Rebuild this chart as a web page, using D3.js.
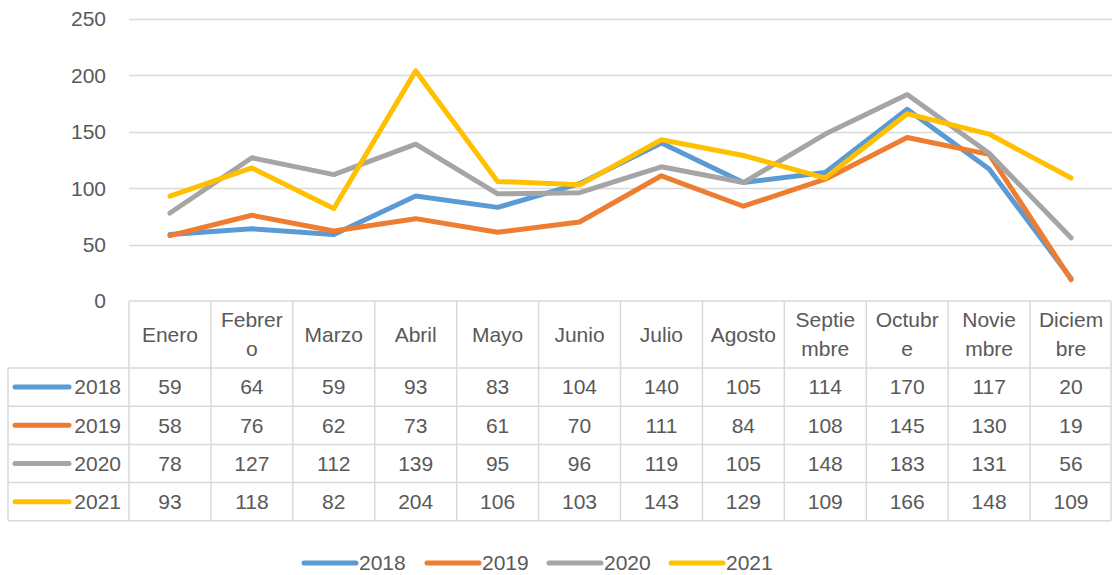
<!DOCTYPE html>
<html><head><meta charset="utf-8">
<script src="https://cdn.jsdelivr.net/npm/d3@7"></script>
<style>body{margin:0;background:#fff;}svg{display:block;font-family:"Liberation Sans",Arial,sans-serif;}</style>
</head><body>
<svg id="c" width="1112" height="575"></svg>
<script>
const months = ["Enero","Febrero","Marzo","Abril","Mayo","Junio","Julio","Agosto","Septiembre","Octubre","Noviembre","Diciembre"];
const monthLines = [["Enero"],["Febrer","o"],["Marzo"],["Abril"],["Mayo"],["Junio"],["Julio"],["Agosto"],["Septie","mbre"],["Octubr","e"],["Novie","mbre"],["Diciem","bre"]];
const seriesNames = ["2018","2019","2020","2021"];
const s2018 = [59,64,59,93,83,104,140,105,114,170,117,20];
const s2019 = [58,76,62,73,61,70,111,84,108,145,130,19];
const s2020 = [78,127,112,139,95,96,119,105,148,183,131,56];
const s2021 = [93,118,82,204,106,103,143,129,109,166,148,109];
const colors = ["#5B9BD5","#ED7D31","#A5A5A5","#FFC000"];
const yTicks = [0,50,100,150,200,250];

(function(){
const series = [s2018,s2019,s2020,s2021];
const svg = d3.select("#c");
const pL = 129, pR = 1112, pT = 19, pB = 301;
const x = d3.scaleBand().domain(months).range([pL, pR]);
const y = d3.scaleLinear().domain([0,250]).range([pB, pT]);
const grid = "#D9D9D9", txt = "#595959", fs = 21;

svg.append("g").selectAll("line").data(yTicks.filter(d=>d>0)).join("line")
  .attr("x1",pL).attr("x2",pR).attr("y1",d=>Math.round(y(d))+0.5).attr("y2",d=>Math.round(y(d))+0.5)
  .attr("stroke",grid).attr("stroke-width",1.3);
svg.append("g").selectAll("text").data(yTicks).join("text")
  .attr("x",106).attr("y",d=>y(d)).attr("dy","0.35em").attr("text-anchor","end")
  .attr("fill",txt).attr("font-size",fs).text(d=>d);

const line = d3.line().x((d,i)=>x(months[i])+x.bandwidth()/2).y(d=>y(d));
svg.append("g").selectAll("path").data(series).join("path")
  .attr("d",line).attr("fill","none").attr("stroke",(d,i)=>colors[i])
  .attr("stroke-width",5).attr("stroke-linejoin","round").attr("stroke-linecap","round");

const hTop = 301, hBot = 368, rowH = 38.2;
const tb = svg.append("g");
const tLeft = 8;
const rowsBottom = hBot + rowH*4;
tb.append("line").attr("x1",pL).attr("x2",pR-1).attr("y1",hTop).attr("y2",hTop).attr("stroke",grid).attr("stroke-width",1.5);
for (let r=0;r<=4;r++){
  const yy = hBot + r*rowH;
  tb.append("line").attr("x1",tLeft).attr("x2",pR-1).attr("y1",yy).attr("y2",yy).attr("stroke",grid).attr("stroke-width",1.5);
}
months.forEach((m)=>{
  tb.append("line").attr("x1",x(m)).attr("x2",x(m)).attr("y1",hTop).attr("y2",rowsBottom).attr("stroke",grid).attr("stroke-width",1.5);
});
tb.append("line").attr("x1",pR-1).attr("x2",pR-1).attr("y1",hTop).attr("y2",rowsBottom).attr("stroke",grid).attr("stroke-width",1.5);
tb.append("line").attr("x1",tLeft).attr("x2",tLeft).attr("y1",hBot).attr("y2",rowsBottom).attr("stroke",grid).attr("stroke-width",1.5);

monthLines.forEach((ls,i)=>{
  const cx = x(months[i]) + x.bandwidth()/2;
  const cy = (hTop+hBot)/2;
  const lh = 29;
  ls.forEach((t,j)=>{
    tb.append("text").attr("x",cx).attr("y",cy + (j-(ls.length-1)/2)*lh).attr("dy","0.35em")
      .attr("text-anchor","middle").attr("fill",txt).attr("font-size",fs).text(t);
  });
});
series.forEach((s,r)=>{
  const cy = hBot + r*rowH + rowH/2;
  tb.append("line").attr("x1",15).attr("x2",69).attr("y1",cy).attr("y2",cy)
    .attr("stroke",colors[r]).attr("stroke-width",5).attr("stroke-linecap","round");
  tb.append("text").attr("x",121).attr("y",cy).attr("dy","0.35em").attr("text-anchor","end")
    .attr("fill",txt).attr("font-size",fs).text(seriesNames[r]);
  s.forEach((v,i)=>{
    tb.append("text").attr("x",x(months[i])+x.bandwidth()/2).attr("y",cy).attr("dy","0.35em")
      .attr("text-anchor","middle").attr("fill",txt).attr("font-size",fs).text(v);
  });
});

const legX = [304,427,549,671];
const lg = svg.append("g");
seriesNames.forEach((n,i)=>{
  lg.append("line").attr("x1",legX[i]).attr("x2",legX[i]+52).attr("y1",563).attr("y2",563)
    .attr("stroke",colors[i]).attr("stroke-width",5).attr("stroke-linecap","round");
  lg.append("text").attr("x",legX[i]+55).attr("y",563).attr("dy","0.35em").attr("fill",txt)
    .attr("font-size",fs).text(n);
});
})();
</script>
</body></html>
